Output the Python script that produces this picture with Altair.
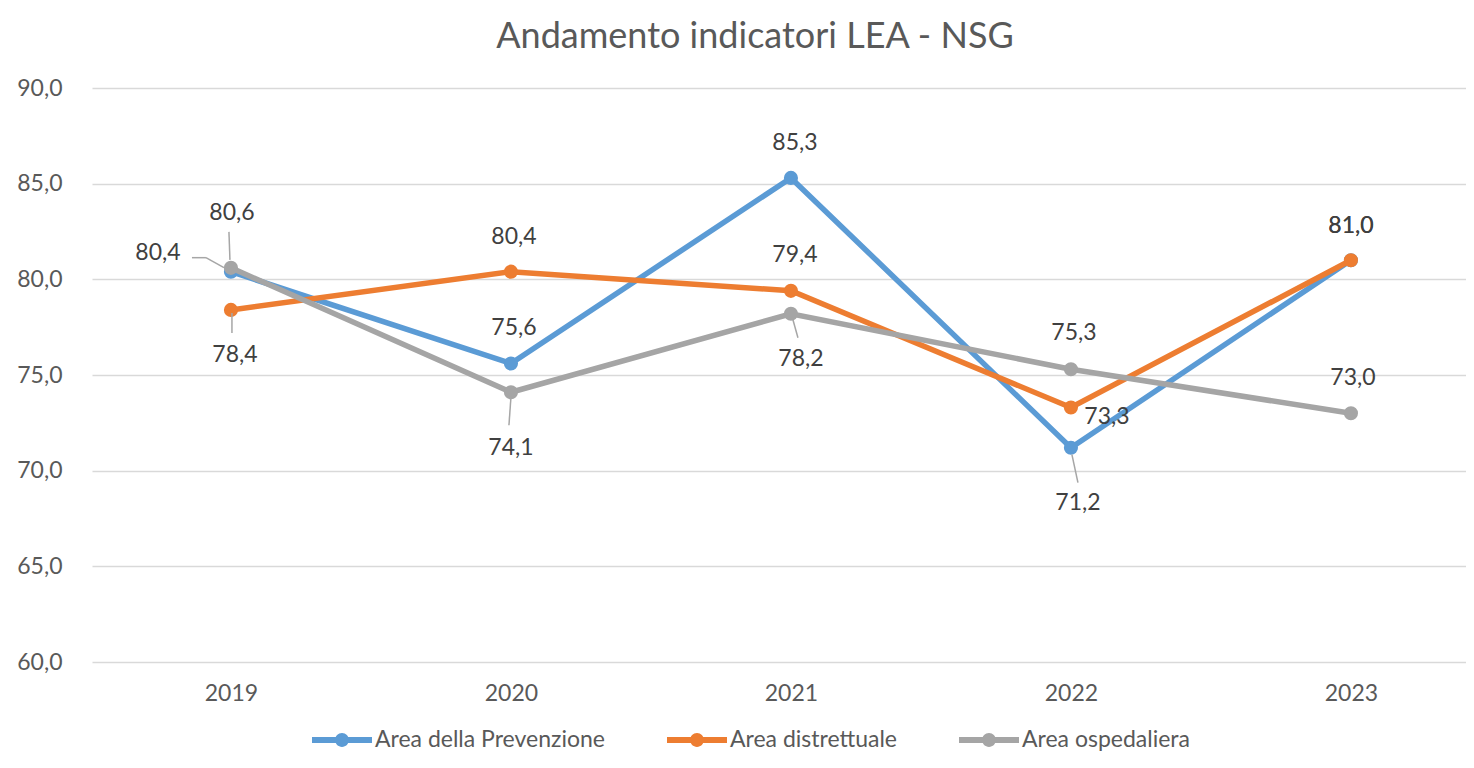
import altair as alt
import pandas as pd

# ---------------- data ----------------
years = ["2019", "2020", "2021", "2022", "2023"]
series_names = ["Area della Prevenzione", "Area distrettuale", "Area ospedaliera"]
prevenzione = [80.4, 75.6, 85.3, 71.2, 81.0]
distrettuale = [78.4, 80.4, 79.4, 73.3, 81.0]
ospedaliera = [80.6, 74.1, 78.2, 75.3, 73.0]
y_ticks = [60, 65, 70, 75, 80, 85, 90]
chart_title = "Andamento indicatori LEA - NSG"

# ---------------- style ----------------
colors = ["#5B9BD5", "#ED7D31", "#A5A5A5"]
FONT = "Lato"
TEXT_GREY = "#595959"
LABEL_COLOR = "#404040"

# pixel offsets of each data label (dx, dy) relative to its point
label_offsets = {
    "Area della Prevenzione": [(-73, -19), (3, -36), (4, -35), (7, 55), (0, -34)],
    "Area distrettuale": [(4, 45), (3, -35), (4, -36), (36, 9), (0, -34)],
    "Area ospedaliera": [(1, -55), (0, 56), (10, 45), (3, -36), (2, -35)],
}
# leader lines: series, year index, start offset, end offset (pixels)
leader_lines = [
    ("Area della Prevenzione", 0, (-39, -14), (-25, -14)),
    ("Area della Prevenzione", 0, (-25, -14), (-7, -4)),
    ("Area distrettuale", 0, (1, 3), (1, 23)),
    ("Area ospedaliera", 0, (-2, -36), (-1, -8)),
    ("Area ospedaliera", 1, (0, 5), (-2, 33)),
    ("Area ospedaliera", 2, (2, 6), (7, 24)),
    ("Area della Prevenzione", 3, (1, 7), (7, 35)),
]

values_by_series = dict(zip(series_names, [prevenzione, distrettuale, ospedaliera]))
rows = []
for s in series_names:
    for y, v in zip(years, values_by_series[s]):
        rows.append({"series": s, "year": y, "value": v})
df = pd.DataFrame(rows)

color_scale = alt.Scale(domain=series_names, range=colors)

base = alt.Chart(df).transform_calculate(
    label="replace(format(datum.value, '.1f'), '.', ',')"
).encode(
    x=alt.X(
        "year:O",
        title=None,
        scale=alt.Scale(type="point", padding=0.4536, align=0.547),
        axis=alt.Axis(
            labelAngle=0, labelFont=FONT, labelFontSize=23, labelColor=TEXT_GREY,
            ticks=False, domain=False, grid=False, labelPadding=20,
        ),
    ),
    y=alt.Y(
        "value:Q",
        title=None,
        scale=alt.Scale(domain=[60, 90], nice=False, zero=False),
        axis=alt.Axis(
            values=y_ticks,
            labelExpr="replace(format(datum.value, '.1f'), '.', ',')",
            labelFont=FONT, labelFontSize=23, labelColor=TEXT_GREY,
            ticks=False, domain=False, grid=True, gridColor="#D9D9D9",
            gridWidth=1.5, labelPadding=30,
        ),
    ),
)

legend_path = (
    "M-1,-0.1 H1 V0.1 H-1 Z "
    "M-0.23,0 A0.23,0.23 0 1,1 0.23,0 A0.23,0.23 0 1,1 -0.23,0 Z"
)
legend = alt.Legend(
    title=None, orient="none", direction="horizontal",
    legendX=220, legendY=622, padding=0,
    symbolType=legend_path, symbolSize=3600, symbolStrokeWidth=0,
    symbolOpacity=1, labelOffset=3, columnPadding=62, labelLimit=500,
    labelFont=FONT, labelFontSize=23, labelColor=TEXT_GREY,
)

layers = []
for i, s in enumerate(series_names):
    sub = base.transform_filter(alt.datum.series == s)
    layers.append(sub.mark_line(strokeWidth=5.5, color=colors[i]))
    if i == 0:
        layers.append(
            sub.mark_point(filled=True, size=200, opacity=1).encode(
                color=alt.Color("series:N", scale=color_scale, legend=legend)
            )
        )
    else:
        layers.append(
            sub.mark_point(filled=True, size=200, opacity=1, color=colors[i])
        )

# leader lines
for s, yi, (x1, y1), (x2, y2) in leader_lines:
    layers.append(
        base.transform_filter(
            (alt.datum.series == s) & (alt.datum.year == years[yi])
        ).mark_rule(
            color="#A6A6A6", strokeWidth=1.5,
            xOffset=x1, yOffset=y1, x2Offset=x2, y2Offset=y2,
        ).encode(x2="year:O", y2="value:Q")
    )

# data labels
for s in series_names:
    for yi, (dx, dy) in enumerate(label_offsets[s]):
        layers.append(
            base.transform_filter(
                (alt.datum.series == s) & (alt.datum.year == years[yi])
            ).mark_text(
                dx=dx, dy=dy, font=FONT, fontSize=23, color=LABEL_COLOR,
                baseline="middle", align="center",
            ).encode(text="label:N")
        )

chart = alt.layer(*layers).properties(
    width=1374,
    height=574,
    padding={"left": 84, "top": 80, "right": 0, "bottom": 96},
    autosize=alt.AutoSizeParams(type="none"),
    title=alt.TitleParams(
        chart_title, font=FONT, fontSize=36, fontWeight="normal",
        color=TEXT_GREY, anchor="middle", dx=-24, offset=21,
    ),
).configure_view(stroke=None)

chart.save("out.html", embed_options={"renderer": "svg", "actions": False})
